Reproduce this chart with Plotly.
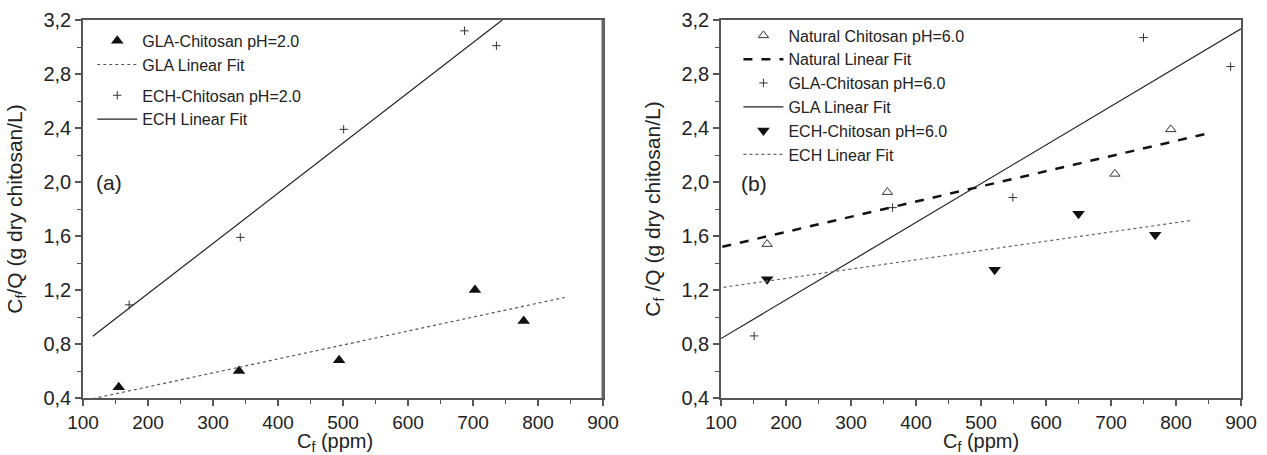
import plotly.graph_objects as go
from plotly.subplots import make_subplots

# ---------------- data ----------------
# Panel (a): pH = 2.0
gla2_x = [155, 340, 494, 703, 778]
gla2_y = [0.48, 0.60, 0.68, 1.20, 0.97]
gla2_fit_x = [115, 841]
gla2_fit_y = [0.395, 1.145]

ech2_x = [171, 342, 501, 687, 736]
ech2_y = [1.09, 1.59, 2.39, 3.12, 3.01]
ech2_fit_x = [115, 745]
ech2_fit_y = [0.857, 3.20]

# Panel (b): pH = 6.0
nat6_x = [171, 356, 706, 792]
nat6_y = [1.54, 1.925, 2.06, 2.39]
nat6_fit_x = [102, 849]
nat6_fit_y = [1.52, 2.36]

gla6_x = [151, 364, 549, 750, 884]
gla6_y = [0.86, 1.81, 1.885, 3.07, 2.855]
gla6_fit_x = [100, 900]
gla6_fit_y = [0.84, 3.135]

ech6_x = [171, 521, 650, 768]
ech6_y = [1.28, 1.35, 1.765, 1.61]
ech6_fit_x = [104, 826]
ech6_fit_y = [1.22, 1.717]

x_range = [100, 900]
y_range = [0.4, 3.2]
panel_labels = ["(a)", "(b)"]
panel_label_x = [140, 151]
panel_label_y = [2.0, 1.99]
x_title = "C<sub>f</sub> (ppm)"
y_titles = ["C<sub>f</sub>/Q (g dry chitosan/L)", "C<sub>f</sub> /Q (g dry chitosan/L)"]

# ---------------- styling ----------------
FONT = "Liberation Sans, Arial, Helvetica, sans-serif"
TXT = "#222222"
AX = "#555555"

fig = make_subplots(rows=1, cols=2, horizontal_spacing=0.1019)

# panel (a)
fig.add_trace(go.Scatter(x=gla2_x, y=gla2_y, mode="markers", name="GLA-Chitosan pH=2.0",
                         legendgroup="gla", legend="legend",
                         marker=dict(symbol="triangle-up", size=11, color="#111111")), 1, 1)
fig.add_trace(go.Scatter(x=gla2_fit_x, y=gla2_fit_y, mode="lines", name="GLA Linear Fit",
                         legendgroup="gla", legend="legend",
                         line=dict(color="#555555", width=1.2, dash="dot")), 1, 1)
fig.add_trace(go.Scatter(x=ech2_x, y=ech2_y, mode="markers", name="ECH-Chitosan pH=2.0",
                         legendgroup="ech", legend="legend",
                         marker=dict(symbol="cross-thin", size=6, color="#333333",
                                     line=dict(width=1, color="#333333"))), 1, 1)
fig.add_trace(go.Scatter(x=ech2_fit_x, y=ech2_fit_y, mode="lines", name="ECH Linear Fit",
                         legendgroup="ech", legend="legend",
                         line=dict(color="#222222", width=1.2)), 1, 1)

# panel (b)
fig.add_trace(go.Scatter(x=nat6_x, y=nat6_y, mode="markers", name="Natural Chitosan pH=6.0",
                         legend="legend2",
                         marker=dict(symbol="triangle-up-open", size=9, color="#333333",
                                     line=dict(width=1, color="#333333"))), 1, 2)
fig.add_trace(go.Scatter(x=nat6_fit_x, y=nat6_fit_y, mode="lines", name="Natural Linear Fit",
                         legend="legend2",
                         line=dict(color="#111111", width=2.5, dash="dash")), 1, 2)
fig.add_trace(go.Scatter(x=gla6_x, y=gla6_y, mode="markers", name="GLA-Chitosan pH=6.0",
                         legend="legend2",
                         marker=dict(symbol="cross-thin", size=6, color="#333333",
                                     line=dict(width=1, color="#333333"))), 1, 2)
fig.add_trace(go.Scatter(x=gla6_fit_x, y=gla6_fit_y, mode="lines", name="GLA Linear Fit",
                         legend="legend2",
                         line=dict(color="#222222", width=1.2)), 1, 2)
fig.add_trace(go.Scatter(x=ech6_x, y=ech6_y, mode="markers", name="ECH-Chitosan pH=6.0",
                         legend="legend2",
                         marker=dict(symbol="triangle-down", size=11, color="#111111")), 1, 2)
fig.add_trace(go.Scatter(x=ech6_fit_x, y=ech6_fit_y, mode="lines", name="ECH Linear Fit",
                         legend="legend2",
                         line=dict(color="#666666", width=1.2, dash="dot")), 1, 2)

xaxis_common = dict(range=x_range, dtick=100, tick0=100, showgrid=False, zeroline=False,
                    showline=True, linecolor=AX, linewidth=1.5, mirror=True,
                    ticks="outside", ticklen=6, tickwidth=1.5, tickcolor=AX, automargin=False,
                    minor=dict(dtick=50, ticks="outside", ticklen=4, tickwidth=1.2, tickcolor=AX),
                    tickfont=dict(family=FONT, size=19, color=TXT))
yaxis_common = dict(range=y_range, dtick=0.4, tick0=0.4, tickformat=".1f", showgrid=False,
                    zeroline=False, showline=True, linecolor=AX, linewidth=1.5, mirror=True,
                    ticks="outside", ticklen=6, tickwidth=1.5, tickcolor=AX, automargin=False,
                    minor=dict(dtick=0.2, ticks="outside", ticklen=4, tickwidth=1.2, tickcolor=AX),
                    tickfont=dict(family=FONT, size=20, color=TXT))

fig.update_xaxes(**xaxis_common)
fig.update_yaxes(**yaxis_common)
fig.update_yaxes(title=dict(text=y_titles[0], font=dict(family=FONT, size=21, color=TXT)),
                 row=1, col=1)
fig.update_yaxes(title=dict(text=y_titles[1], font=dict(family=FONT, size=21, color=TXT)),
                 row=1, col=2)

# x-axis titles placed below the tick labels
for xr, xc in [("x domain", 0.485), ("x2 domain", 0.5)]:
    fig.add_annotation(x=xc, xref=xr, y=-0.119, yref="paper", text=x_title,
                       showarrow=False, xanchor="center", yanchor="middle",
                       font=dict(family=FONT, size=20, color=TXT))

# thicker right border on panel (a)
fig.add_shape(type="line", xref="x domain", yref="y domain", x0=1, x1=1, y0=0, y1=1,
              line=dict(color="#666666", width=3))

for i, lab in enumerate(panel_labels):
    fig.add_annotation(x=panel_label_x[i], y=panel_label_y[i], xref="x" if i == 0 else "x2",
                       yref="y" if i == 0 else "y2", text=lab, showarrow=False,
                       font=dict(family=FONT, size=21, color=TXT))

legend_common = dict(bgcolor="rgba(0,0,0,0)", borderwidth=0,
                     font=dict(family=FONT, size=16, color=TXT),
                     xanchor="left", yanchor="top", itemwidth=40)

fig.update_layout(
    width=1267, height=455,
    margin=dict(l=83, r=26, t=20, b=57),
    paper_bgcolor="white", plot_bgcolor="white",
    separators=",.",
    showlegend=True,
    legend=dict(x=0.008, y=0.99, tracegroupgap=7, **legend_common),
    legend2=dict(x=0.566, y=1.004, **legend_common),
)

fig.write_html("out.html", config={"displayModeBar": False},
               post_script="document.body.style.margin='0px';document.body.style.overflow='hidden';")
